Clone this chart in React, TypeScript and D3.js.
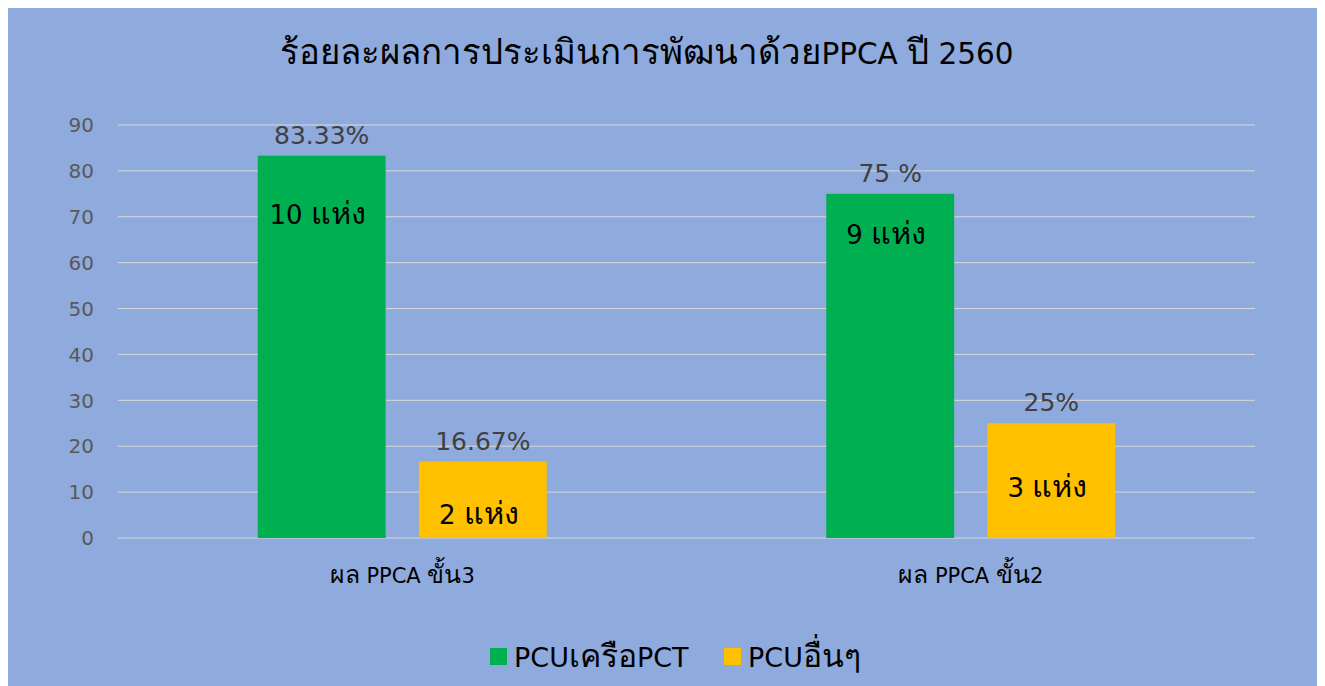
import React from "react";
import * as d3 from "d3";

// Chart data
const title = "ร้อยละผลการประเมินการพัฒนาด้วยPPCA ปี 2560";
const categories = ["ผล PPCA ขั้น3", "ผล PPCA ขั้น2"];
const seriesNames = ["PCUเครือPCT", "PCUอื่นๆ"];
const pctValues = [
  [83.33, 75],
  [16.67, 25],
];
const valueLabels = [
  ["83.33%", "75 %"],
  ["16.67%", "25%"],
];
const countLabels = [
  ["10 แห่ง", "9 แห่ง"],
  ["2 แห่ง", "3 แห่ง"],
];
const yTicks = [0, 10, 20, 30, 40, 50, 60, 70, 80, 90];
const seriesColors = ["#00B050", "#FFC000"];

// Hand-placed drop of the count labels below each bar's top (px)
const countLabelDrop = [
  [68, 50],
  [62, 74],
];

const W = 1317;
const H = 679;
const FONT = "Tahoma, 'DejaVu Sans', 'Noto Sans', sans-serif";

// Thai glyphs in the fallback font run small next to Latin ones,
// so Thai runs get a slightly larger size.
const THAI_SCALE = 1.18;
function mixed(text: string, size: number) {
  const runs = text.match(/[\u0E00-\u0E7F]+|[^\u0E00-\u0E7F]+/g) || [];
  return runs.map((r, i) => (
    <tspan
      key={i}
      fontSize={/[\u0E00-\u0E7F]/.test(r) ? size * THAI_SCALE : size}
    >
      {r}
    </tspan>
  ));
}

export default function App() {
  const plotLeft = 110;
  const plotRight = 1247;
  const plotTop = 117;
  const plotBottom = 530;

  const x0 = d3
    .scaleBand<string>()
    .domain(categories)
    .range([plotLeft, plotRight])
    .paddingInner(0)
    .paddingOuter(0);
  const groupWidth = 289;
  const x1 = d3
    .scaleBand<string>()
    .domain(seriesNames)
    .range([0, groupWidth])
    .paddingInner(33 / 160)
    .paddingOuter(0);
  const y = d3.scaleLinear().domain([0, 90]).range([plotBottom, plotTop]);

  const groupStart = (c: string) =>
    (x0(c) as number) + (x0.bandwidth() - groupWidth) / 2;

  return (
    <svg width={W} height={H} style={{ display: "block", fontFamily: FONT }}>
      <rect x={0} y={0} width={W} height={H} fill="#8FAADC" />
      <text x={639} y={56} textAnchor="middle" fontSize={29.5} fill="#000">
        {mixed(title, 29.5)}
      </text>

      {yTicks.map((t) => (
        <g key={t}>
          <line
            x1={plotLeft}
            x2={plotRight}
            y1={y(t)}
            y2={y(t)}
            stroke="#D9D9D9"
            strokeWidth={1}
          />
          <text
            x={86}
            y={y(t)}
            dy="0.36em"
            textAnchor="end"
            fontSize={20}
            fill="#595959"
          >
            {t}
          </text>
        </g>
      ))}

      {seriesNames.map((s, si) =>
        categories.map((c, ci) => {
          const v = pctValues[si][ci];
          const bx = groupStart(c) + (x1(s) as number);
          const bw = x1.bandwidth();
          const top = y(v);
          return (
            <g key={s + c}>
              <rect
                x={bx}
                y={top}
                width={bw}
                height={plotBottom - top}
                fill={seriesColors[si]}
              />
              <text
                x={bx + bw / 2}
                y={top - 12}
                textAnchor="middle"
                fontSize={25}
                fill="#404040"
              >
                {valueLabels[si][ci]}
              </text>
              <text
                x={bx + bw / 2 - 4}
                y={top + countLabelDrop[si][ci]}
                textAnchor="middle"
                fontSize={26}
                fill="#000"
              >
                {mixed(countLabels[si][ci], 26)}
              </text>
            </g>
          );
        })
      )}

      {categories.map((c) => (
        <text
          key={c}
          x={(x0(c) as number) + x0.bandwidth() / 2}
          y={575}
          textAnchor="middle"
          fontSize={21}
          fill="#000"
        >
          {mixed(c, 21)}
        </text>
      ))}

      {seriesNames.map((s, i) => {
        const lx = i === 0 ? 482 : 716;
        return (
          <g key={s}>
            <rect x={lx} y={640} width={17} height={17} fill={seriesColors[i]} />
            <text x={lx + 24} y={659} fontSize={27} fill="#000">
              {mixed(s, 27)}
            </text>
          </g>
        );
      })}
    </svg>
  );
}
